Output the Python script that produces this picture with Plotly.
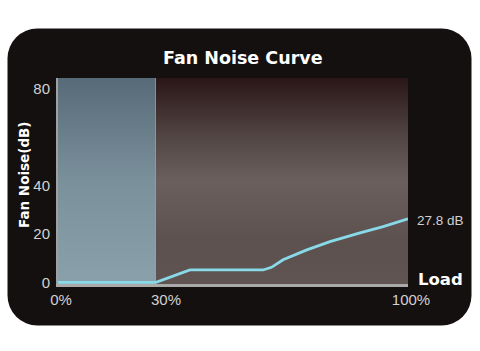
import base64
import plotly.graph_objects as go

# ---- data ----
load_pct = [0, 28, 37.7, 58.6, 61.0, 64.3, 71.1, 77.7, 86.3, 92.9, 100]
noise_db = [0, 0, 5.1, 5.1, 6.2, 9.3, 13.4, 16.8, 20.4, 23.0, 26.2]
passive_zone = [0, 28]          # semi-fanless zone (load %)
x_tickvals = [0, 30, 100]
x_ticktext = ["0%", "30%", "100%"]
y_tickvals = [0, 20, 40, 80]
y_ticktext = ["0", "20", "40", "80"]
max_label = "27.8 dB"
title_text = "Fan Noise Curve"
y_title = "Fan Noise(dB)"
x_title = "Load"

W, H = 480, 351
L, R, T, B = 58, 72, 78, 67
PW, PH = W - L - R, H - T - B
YMIN, YMAX = -0.7, 84.4


def px2paper(px, py):
    return (px - L) / PW, (H - B - py) / PH


def svg_uri(svg):
    return "data:image/svg+xml;base64," + base64.b64encode(svg.encode()).decode()


bg_svg = (
    '<svg xmlns="http://www.w3.org/2000/svg" width="480" height="351" '
    'viewBox="0 0 480 351" preserveAspectRatio="none">'
    '<rect x="7.5" y="28.5" width="464" height="297" rx="30" ry="30" fill="#141010"/>'
    '</svg>'
)
plot_svg = (
    '<svg xmlns="http://www.w3.org/2000/svg" width="100" height="100" '
    'viewBox="0 0 100 100" preserveAspectRatio="none">'
    '<defs><linearGradient id="g" x1="0" y1="0" x2="0" y2="1">'
    '<stop offset="0" stop-color="#2a1616"/>'
    '<stop offset="0.3" stop-color="#544847"/>'
    '<stop offset="0.5" stop-color="#6a5f5d"/>'
    '<stop offset="0.8" stop-color="#5d5150"/>'
    '<stop offset="1" stop-color="#5f5452"/>'
    '</linearGradient></defs>'
    '<rect x="0" y="0" width="100" height="100" fill="url(#g)"/></svg>'
)
band_svg = (
    '<svg xmlns="http://www.w3.org/2000/svg" width="100" height="100" '
    'viewBox="0 0 100 100" preserveAspectRatio="none">'
    '<defs><linearGradient id="b" x1="0" y1="0" x2="0" y2="1">'
    '<stop offset="0" stop-color="#566b77"/>'
    '<stop offset="0.5" stop-color="#7a909b"/>'
    '<stop offset="1" stop-color="#8aa0aa"/>'
    '</linearGradient></defs>'
    '<rect x="0" y="0" width="100" height="100" fill="url(#b)"/>'
    '<rect x="99.3" y="0" width="0.7" height="100" fill="#8fa3ad"/></svg>'
)

bx, by = px2paper(0, 0)
images = [
    dict(source=svg_uri(bg_svg), xref="paper", yref="paper", x=bx, y=by,
         sizex=W / PW, sizey=H / PH, xanchor="left", yanchor="top",
         sizing="stretch", layer="below"),
    dict(source=svg_uri(plot_svg), xref="paper", yref="paper", x=0, y=1,
         sizex=1, sizey=1, xanchor="left", yanchor="top",
         sizing="stretch", layer="below"),
    dict(source=svg_uri(band_svg), xref="x", yref="y", x=passive_zone[0], y=YMAX,
         sizex=passive_zone[1] - passive_zone[0], sizey=YMAX - YMIN,
         xanchor="left", yanchor="top", sizing="stretch", layer="below"),
]

fig = go.Figure()
fig.add_trace(go.Scatter(
    x=load_pct, y=noise_db, mode="lines",
    line=dict(color="#88dae8", width=2.8, shape="linear"),
    hoverinfo="skip", showlegend=False,
))

tick_font = dict(family="Liberation Sans, Arial, sans-serif", size=15, color="#d2d2d2")
bold_font = "DejaVu Sans, Verdana, sans-serif"

tx, ty = px2paper(243, 58)
yx, yy = px2paper(24, 175)
lx, ly = px2paper(440, 279)

annotations = [
    dict(text=f"<b>{title_text}</b>", xref="paper", yref="paper", x=tx, y=ty,
         xanchor="center", yanchor="middle", showarrow=False,
         font=dict(family=bold_font, size=17.5, color="#ffffff")),
    dict(text=f"<b>{y_title}</b>", xref="paper", yref="paper", x=yx, y=yy,
         xanchor="center", yanchor="middle", showarrow=False, textangle=-90,
         font=dict(family=bold_font, size=13.5, color="#ffffff")),
    dict(text=f"<b>{x_title}</b>", xref="paper", yref="paper", x=lx, y=ly,
         xanchor="center", yanchor="middle", showarrow=False,
         font=dict(family=bold_font, size=16.5, color="#ffffff")),
    dict(text=max_label, xref="x", yref="y", x=load_pct[-1], y=noise_db[-1],
         xanchor="left", yanchor="middle", showarrow=False, xshift=7, yshift=-2,
         font=dict(family="Liberation Sans, Arial, sans-serif", size=13.5, color="#d0d0d0")),
]

fig.update_layout(
    width=W, height=H,
    margin=dict(l=L, r=R, t=T, b=B, pad=0),
    paper_bgcolor="#ffffff", plot_bgcolor="rgba(0,0,0,0)",
    images=images, annotations=annotations,
    xaxis=dict(range=[0, 100], tickvals=x_tickvals, ticktext=x_ticktext,
               showgrid=False, zeroline=False, showline=True,
               linecolor="#a9a9a9", linewidth=3, ticks="",
               tickfont=tick_font, layer="below traces", ticklabelshift=3,
               fixedrange=True),
    yaxis=dict(range=[YMIN, YMAX], tickvals=y_tickvals, ticktext=y_ticktext,
               showgrid=False, zeroline=False, showline=True,
               linecolor="#a0a0a0", linewidth=2, ticks="",
               tickfont=tick_font, layer="below traces", ticklabelstandoff=3,
               fixedrange=True),
    showlegend=False,
)

fig.write_html("out.html", config=dict(displayModeBar=False))
